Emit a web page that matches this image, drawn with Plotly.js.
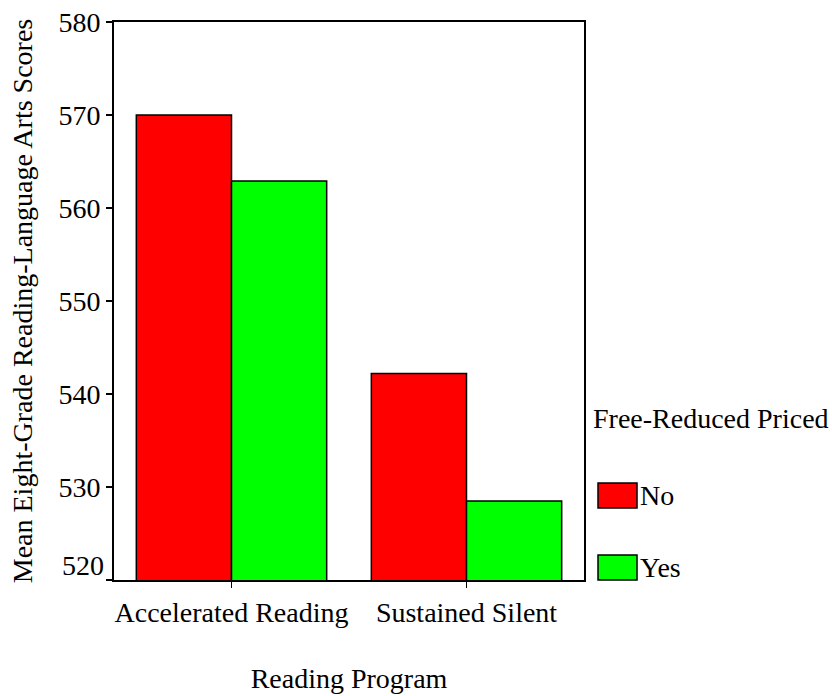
<!DOCTYPE html>
<html>
<head>
<meta charset="utf-8">
<script src="https://cdn.plot.ly/plotly-3.0.1.min.js"></script>
<style>html,body{margin:0;padding:0;background:#fff;}#chart{width:832px;height:696px;}</style>
</head>
<body>
<div id="chart"></div>
<script>
// Data
const categories = ["Accelerated Reading", "Sustained Silent"];
const seriesNames = ["No", "Yes"];
const valuesNo = [570.0, 542.2];
const valuesYes = [562.9, 528.5];
const seriesColors = ["#ff0000", "#00ff00"];
const yTickVals = [520, 530, 540, 550, 560, 570, 580];
const yTickText = ["", "530", "540", "550", "560", "570", "580"];
const legendTitle = "Free-Reduced Priced";

const FONT = "Liberation Serif, Times New Roman, serif";
const FS = 28;

const traces = [valuesNo, valuesYes].map((vals, i) => ({
  type: "bar",
  x: categories,
  y: vals,
  name: seriesNames[i],
  marker: {color: seriesColors[i], line: {color: "#000", width: 1.5}},
  showlegend: false,
  hoverinfo: "none"
}));

// custom legend (large swatches)
const swY = [[0.129, 0.1738], [0.0, 0.0448]];
const shapes = seriesNames.map((n, i) => ({
  type: "rect", xref: "paper", yref: "paper",
  x0: 1.0298, x1: 1.1128, y0: swY[i][0], y1: swY[i][1],
  fillcolor: seriesColors[i], line: {color: "#000", width: 1.5}
}));
const annotations = seriesNames.map((n, i) => ({
  xref: "paper", yref: "paper", x: 1.115, y: (swY[i][0] + swY[i][1]) / 2,
  xanchor: "left", yanchor: "middle", text: n, showarrow: false,
  font: {family: FONT, size: FS, color: "#000"}
}));
annotations.push({
  xref: "paper", yref: "paper", x: 1.015, y: 0.29,
  xanchor: "left", yanchor: "middle", text: legendTitle, showarrow: false,
  font: {family: FONT, size: FS, color: "#000"}
});
// bottom y label sits above its tick
annotations.push({
  xref: "paper", yref: "y", x: 0, y: yTickVals[0], xshift: -8,
  xanchor: "right", yanchor: "middle", yshift: 15, text: String(yTickVals[0]), showarrow: false,
  font: {family: FONT, size: FS, color: "#000"}
});

const layout = {
  width: 832, height: 696,
  margin: {l: 114, r: 248, t: 22, b: 116, pad: 0},
  paper_bgcolor: "#fff", plot_bgcolor: "#fff",
  font: {family: FONT, size: FS, color: "#000"},
  barmode: "group", bargap: 0.19, bargroupgap: 0,
  xaxis: {
    range: [-0.5, 1.5], showgrid: false, zeroline: false,
    showline: true, mirror: true, linecolor: "#000", linewidth: 2,
    ticks: "outside", ticklen: 6, tickwidth: 1.5, tickcolor: "#000",
    tickfont: {family: FONT, size: FS, color: "#000"},
    title: {text: "Reading Program", font: {family: FONT, size: FS, color: "#000"}, standoff: 42},
    automargin: false, fixedrange: true
  },
  yaxis: {
    range: [520, 580], showgrid: false, zeroline: false,
    showline: true, mirror: true, linecolor: "#000", linewidth: 2,
    ticks: "outside", ticklen: 6, tickwidth: 1.5, tickcolor: "#000",
    tickvals: yTickVals, ticktext: yTickText,
    tickfont: {family: FONT, size: FS, color: "#000"},
    title: {text: "Mean Eight-Grade Reading-Language Arts Scores", font: {family: FONT, size: FS, color: "#000"}, standoff: 18},
    automargin: false, fixedrange: true
  },
  shapes: shapes,
  annotations: annotations
};

Plotly.newPlot("chart", traces, layout, {displayModeBar: false, staticPlot: true});
</script>
</body>
</html>
